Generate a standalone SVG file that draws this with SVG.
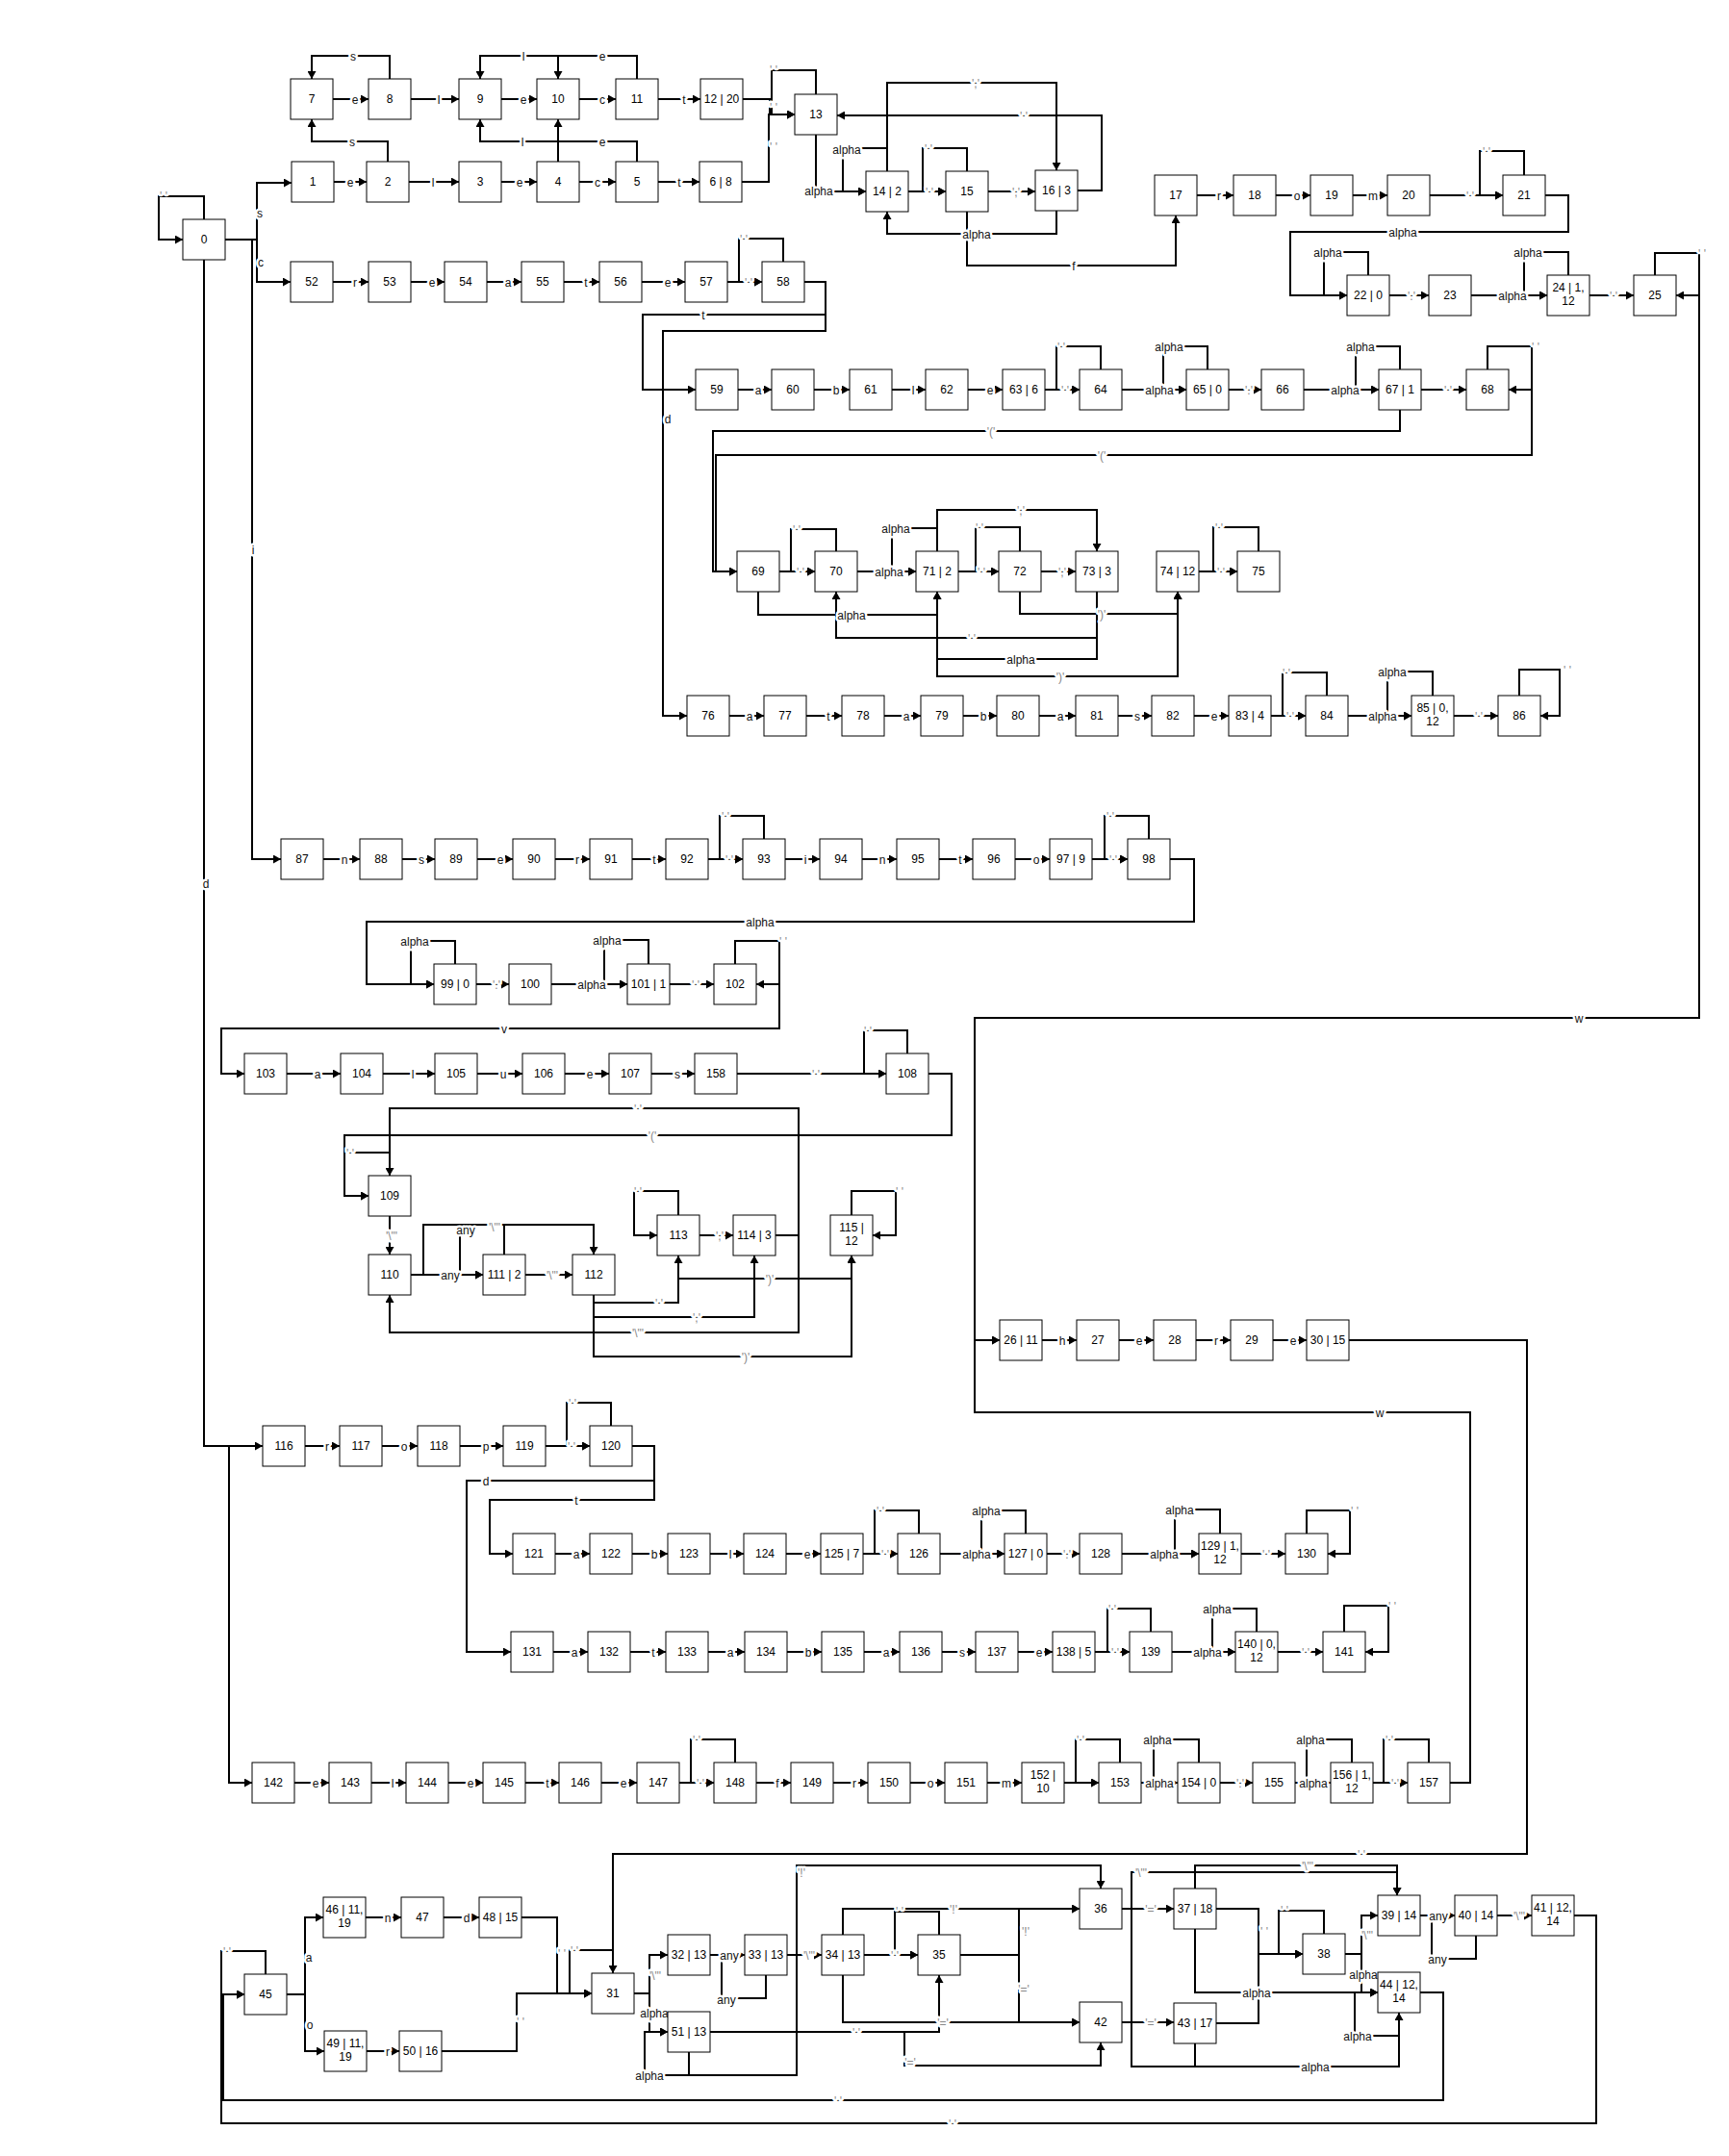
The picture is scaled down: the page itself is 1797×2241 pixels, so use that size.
<svg xmlns="http://www.w3.org/2000/svg" width="1797" height="2241" viewBox="0 0 1797 2241">
<defs>
<marker id="ah" viewBox="0 0 8 9" refX="8" refY="4.5" markerWidth="8" markerHeight="9" markerUnits="userSpaceOnUse" orient="auto"><path d="M0,0 L8,4.5 L0,9 z" fill="#000"/></marker>
<style>
.e{fill:none;stroke:#000;stroke-width:2;marker-end:url(#ah)}
.s{fill:none;stroke:#000;stroke-width:2}
.n{fill:#fff;stroke:#000;stroke-width:1}
text{font-family:"Liberation Sans",Arial,Helvetica,sans-serif;font-size:12px}
.nt{text-anchor:middle;fill:#000}
.l{text-anchor:middle;fill:#111;stroke:#fff;stroke-width:5;stroke-linejoin:round;paint-order:stroke}
.q{fill:#888}
</style>
</defs>
<rect width="1797" height="2241" fill="#fff"/>
<g id="connectors">
<path class="e" d="M346,103 H383"/>
<path class="e" d="M427,103 H477"/>
<path class="e" d="M521,103 H558"/>
<path class="e" d="M602,103 H640"/>
<path class="e" d="M684,103 H728"/>
<path class="e" d="M405,82 V58 H324 V82"/>
<path class="e" d="M580,82 V58 H499 V82"/>
<path class="e" d="M662,82 V58 H580 V82"/>
<path class="e" d="M347,189 H381"/>
<path class="e" d="M425,189 H477"/>
<path class="e" d="M521,189 H558"/>
<path class="e" d="M602,189 H640"/>
<path class="e" d="M684,189 H727"/>
<path class="e" d="M403,168 V147 H324 V124"/>
<path class="e" d="M580,168 V147 H499 V124"/>
<path class="e" d="M662,168 V147 H580 V124"/>
<path class="e" d="M772,103 H800 V119 H826"/>
<path class="e" d="M771,189 H799 V119 H826"/>
<path class="e" d="M848,98 V73 H802 V119 H826"/>
<path class="e" d="M212,228 V204 H165 V249 H190"/>
<path class="e" d="M234,249 H267 V190 H303"/>
<path class="e" d="M234,249 H267 V293 H302"/>
<path class="e" d="M234,249 H262 V893 H292"/>
<path class="e" d="M212,270 V1503 H273"/>
<path class="e" d="M212,270 V1503 H238 V1853 H262"/>
<path class="e" d="M848,140 V199 H900"/>
<path class="e" d="M922,178 V154 H876 V199 H900"/>
<path class="e" d="M944,199 H983"/>
<path class="e" d="M1005,178 V154 H959 V199 H983"/>
<path class="e" d="M1027,199 H1076"/>
<path class="e" d="M922,178 V86 H1098 V177"/>
<path class="e" d="M1120,198 H1145 V120 H870"/>
<path class="e" d="M1098,219 V243 H922 V220"/>
<path class="e" d="M1005,220 V276 H1222 V224"/>
<path class="e" d="M1244,203 H1282"/>
<path class="e" d="M1326,203 H1362"/>
<path class="e" d="M1406,203 H1442"/>
<path class="e" d="M1486,203 H1562"/>
<path class="e" d="M1584,182 V157 H1538 V203 H1562"/>
<path class="e" d="M1606,203 H1630 V241 H1341 V307 H1400"/>
<path class="e" d="M1422,286 V262 H1376 V307 H1400"/>
<path class="e" d="M1444,307 H1485"/>
<path class="e" d="M1529,307 H1608"/>
<path class="e" d="M1630,286 V262 H1584 V307 H1608"/>
<path class="e" d="M1652,307 H1698"/>
<path class="e" d="M1720,286 V263 H1766 V307 H1742"/>
<path class="e" d="M1742,307 H1766 V1058 H1013 V1393 H1039"/>
<path class="e" d="M346,293 H383"/>
<path class="e" d="M427,293 H462"/>
<path class="e" d="M506,293 H542"/>
<path class="e" d="M586,293 H623"/>
<path class="e" d="M667,293 H712"/>
<path class="e" d="M756,293 H792"/>
<path class="e" d="M814,272 V248 H768 V293 H792"/>
<path class="e" d="M836,293 H858 V327 H668 V405 H723"/>
<path class="e" d="M836,293 H858 V344 H689 V744 H714"/>
<path class="e" d="M767,405 H802"/>
<path class="e" d="M846,405 H883"/>
<path class="e" d="M927,405 H962"/>
<path class="e" d="M1006,405 H1042"/>
<path class="e" d="M1086,405 H1122"/>
<path class="e" d="M1144,384 V360 H1098 V405 H1122"/>
<path class="e" d="M1166,405 H1233"/>
<path class="e" d="M1255,384 V360 H1209 V405 H1233"/>
<path class="e" d="M1277,405 H1311"/>
<path class="e" d="M1355,405 H1433"/>
<path class="e" d="M1455,384 V360 H1409 V405 H1433"/>
<path class="e" d="M1477,405 H1524"/>
<path class="e" d="M1546,384 V360 H1592 V405 H1568"/>
<path class="e" d="M1455,426 V448 H741 V594 H766"/>
<path class="e" d="M1568,405 H1592 V473 H744 V594 H766"/>
<path class="e" d="M810,594 H847"/>
<path class="e" d="M869,573 V550 H822 V594 H847"/>
<path class="e" d="M891,594 H952"/>
<path class="e" d="M974,573 V549 H927 V594 H952"/>
<path class="e" d="M996,594 H1038"/>
<path class="e" d="M1060,573 V548 H1014 V594 H1038"/>
<path class="e" d="M974,573 V530 H1140 V573"/>
<path class="e" d="M1082,594 H1118"/>
<path class="e" d="M1140,615 V663 H869 V615"/>
<path class="e" d="M1140,615 V685 H974 V615"/>
<path class="e" d="M1140,615 V638 H1224 V615"/>
<path class="e" d="M1060,615 V638 H1224 V615"/>
<path class="e" d="M788,615 V639 H974 V615"/>
<path class="e" d="M974,615 V703 H1224 V615"/>
<path class="e" d="M1246,594 H1286"/>
<path class="e" d="M1308,573 V548 H1261 V594 H1286"/>
<path class="e" d="M758,744 H794"/>
<path class="e" d="M838,744 H875"/>
<path class="e" d="M919,744 H957"/>
<path class="e" d="M1001,744 H1036"/>
<path class="e" d="M1080,744 H1118"/>
<path class="e" d="M1162,744 H1197"/>
<path class="e" d="M1241,744 H1277"/>
<path class="e" d="M1321,744 H1357"/>
<path class="e" d="M1379,723 V699 H1333 V744 H1357"/>
<path class="e" d="M1401,744 H1467"/>
<path class="e" d="M1489,723 V698 H1442 V744 H1467"/>
<path class="e" d="M1511,744 H1557"/>
<path class="e" d="M1579,723 V696 H1621 V744 H1601"/>
<path class="e" d="M336,893 H374"/>
<path class="e" d="M418,893 H452"/>
<path class="e" d="M496,893 H533"/>
<path class="e" d="M577,893 H613"/>
<path class="e" d="M657,893 H692"/>
<path class="e" d="M736,893 H772"/>
<path class="e" d="M794,872 V848 H748 V893 H772"/>
<path class="e" d="M816,893 H852"/>
<path class="e" d="M896,893 H932"/>
<path class="e" d="M976,893 H1011"/>
<path class="e" d="M1055,893 H1091"/>
<path class="e" d="M1135,893 H1172"/>
<path class="e" d="M1194,872 V848 H1148 V893 H1172"/>
<path class="e" d="M1216,893 H1241 V958 H381 V1023 H451"/>
<path class="e" d="M473,1002 V978 H427 V1023 H451"/>
<path class="e" d="M495,1023 H529"/>
<path class="e" d="M573,1023 H652"/>
<path class="e" d="M674,1002 V977 H628 V1023 H652"/>
<path class="e" d="M696,1023 H742"/>
<path class="e" d="M764,1002 V978 H810 V1023 H786"/>
<path class="e" d="M786,1023 H810 V1069 H230 V1116 H254"/>
<path class="e" d="M298,1116 H354"/>
<path class="e" d="M398,1116 H452"/>
<path class="e" d="M496,1116 H543"/>
<path class="e" d="M587,1116 H633"/>
<path class="e" d="M677,1116 H722"/>
<path class="e" d="M766,1116 H921"/>
<path class="e" d="M943,1095 V1071 H898 V1116 H921"/>
<path class="e" d="M965,1116 H989 V1180 H358 V1243 H383"/>
<path class="e" d="M405,1222 V1198 H358 V1243 H383"/>
<path class="e" d="M405,1264 V1304"/>
<path class="e" d="M427,1325 H502"/>
<path class="e" d="M427,1325 H440 V1273 H617 V1304"/>
<path class="e" d="M524,1304 V1273 H478 V1325 H502"/>
<path class="e" d="M546,1325 H595"/>
<path class="e" d="M617,1346 V1354 H705 V1305"/>
<path class="e" d="M617,1346 V1369 H784 V1305"/>
<path class="e" d="M617,1346 V1410 H885 V1305"/>
<path class="e" d="M705,1263 V1238 H659 V1284 H683"/>
<path class="e" d="M727,1284 H762"/>
<path class="e" d="M705,1305 V1329 H885 V1305"/>
<path class="e" d="M806,1284 H830 V1152 H405 V1222"/>
<path class="e" d="M806,1284 H830 V1385 H405 V1346"/>
<path class="e" d="M885,1263 V1238 H931 V1284 H907"/>
<path class="e" d="M1083,1393 H1119"/>
<path class="e" d="M1163,1393 H1199"/>
<path class="e" d="M1243,1393 H1279"/>
<path class="e" d="M1323,1393 H1358"/>
<path class="e" d="M1402,1393 H1587 V1927 H637 V2051"/>
<path class="e" d="M1507,1853 H1528 V1468 H1013 V1393 H1039"/>
<path class="e" d="M317,1503 H353"/>
<path class="e" d="M397,1503 H434"/>
<path class="e" d="M478,1503 H523"/>
<path class="e" d="M567,1503 H613"/>
<path class="e" d="M635,1482 V1458 H589 V1503 H613"/>
<path class="e" d="M657,1503 H680 V1559 H509 V1615 H533"/>
<path class="e" d="M657,1503 H680 V1539 H485 V1717 H531"/>
<path class="e" d="M577,1615 H613"/>
<path class="e" d="M657,1615 H694"/>
<path class="e" d="M738,1615 H773"/>
<path class="e" d="M817,1615 H853"/>
<path class="e" d="M897,1615 H933"/>
<path class="e" d="M955,1594 V1570 H909 V1615 H933"/>
<path class="e" d="M977,1615 H1044"/>
<path class="e" d="M1066,1594 V1570 H1020 V1615 H1044"/>
<path class="e" d="M1088,1615 H1122"/>
<path class="e" d="M1166,1615 H1246"/>
<path class="e" d="M1268,1594 V1569 H1221 V1615 H1246"/>
<path class="e" d="M1290,1615 H1336"/>
<path class="e" d="M1358,1594 V1570 H1403 V1615 H1380"/>
<path class="e" d="M575,1717 H611"/>
<path class="e" d="M655,1717 H692"/>
<path class="e" d="M736,1717 H774"/>
<path class="e" d="M818,1717 H854"/>
<path class="e" d="M898,1717 H935"/>
<path class="e" d="M979,1717 H1014"/>
<path class="e" d="M1058,1717 H1094"/>
<path class="e" d="M1138,1717 H1174"/>
<path class="e" d="M1196,1696 V1672 H1151 V1717 H1174"/>
<path class="e" d="M1218,1717 H1284"/>
<path class="e" d="M1306,1696 V1672 H1260 V1717 H1284"/>
<path class="e" d="M1328,1717 H1375"/>
<path class="e" d="M1397,1696 V1669 H1443 V1717 H1419"/>
<path class="e" d="M306,1853 H342"/>
<path class="e" d="M386,1853 H422"/>
<path class="e" d="M466,1853 H502"/>
<path class="e" d="M546,1853 H581"/>
<path class="e" d="M625,1853 H662"/>
<path class="e" d="M706,1853 H742"/>
<path class="e" d="M764,1832 V1808 H718 V1853 H742"/>
<path class="e" d="M786,1853 H822"/>
<path class="e" d="M866,1853 H902"/>
<path class="e" d="M946,1853 H982"/>
<path class="e" d="M1026,1853 H1062"/>
<path class="e" d="M1106,1853 H1142"/>
<path class="e" d="M1164,1832 V1808 H1118 V1853 H1142"/>
<path class="e" d="M1186,1853 H1224"/>
<path class="e" d="M1246,1832 V1808 H1199 V1853 H1224"/>
<path class="e" d="M1268,1853 H1302"/>
<path class="e" d="M1346,1853 H1383"/>
<path class="e" d="M1405,1832 V1808 H1358 V1853 H1383"/>
<path class="e" d="M1427,1853 H1463"/>
<path class="e" d="M1485,1832 V1808 H1438 V1853 H1463"/>
<path class="e" d="M276,2052 V2028 H230 V2073 H254"/>
<path class="e" d="M298,2073 H317 V1993 H336"/>
<path class="e" d="M298,2073 H317 V2132 H337"/>
<path class="e" d="M380,1993 H417"/>
<path class="e" d="M461,1993 H498"/>
<path class="e" d="M542,1993 H579 V2072 H615"/>
<path class="e" d="M381,2132 H415"/>
<path class="e" d="M459,2132 H537 V2072 H615"/>
<path class="e" d="M637,2051 V2027 H592 V2072 H615"/>
<path class="e" d="M659,2072 H675 V2032 H694"/>
<path class="e" d="M659,2072 H675 V2112 H694"/>
<path class="e" d="M716,2133 V2157 H670 V2112 H694"/>
<path class="e" d="M716,2133 V2157 H828 V1939 H1144 V1963"/>
<path class="e" d="M738,2112 H976 V2053"/>
<path class="e" d="M738,2112 H940 V2147 H1144 V2123"/>
<path class="e" d="M738,2032 H774"/>
<path class="e" d="M796,2053 V2077 H750 V2032 H774"/>
<path class="e" d="M818,2032 H854"/>
<path class="e" d="M898,2032 H954"/>
<path class="e" d="M976,2011 V1987 H930 V2032 H954"/>
<path class="e" d="M876,2011 V1984 H1122"/>
<path class="e" d="M876,2053 V2102 H1122"/>
<path class="e" d="M998,2032 H1059 V1984 H1122"/>
<path class="e" d="M998,2032 H1059 V2102 H1122"/>
<path class="e" d="M1166,1984 H1220"/>
<path class="e" d="M1166,2102 H1220"/>
<path class="e" d="M1264,1984 H1308 V2031 H1354"/>
<path class="e" d="M1264,2103 H1308 V2031 H1354"/>
<path class="e" d="M1376,2010 V1986 H1329 V2031 H1354"/>
<path class="e" d="M1398,2031 H1415 V1991 H1432"/>
<path class="e" d="M1398,2031 H1415 V2071 H1432"/>
<path class="e" d="M1242,2005 V2071 H1432"/>
<path class="e" d="M1242,1963 V1939 H1452 V1970"/>
<path class="e" d="M1242,2124 V2148 H1176 V1946 H1452 V1970"/>
<path class="e" d="M1242,2124 V2148 H1454 V2092"/>
<path class="e" d="M1454,2092 V2116 H1408 V2071 H1432"/>
<path class="e" d="M1476,1991 H1512"/>
<path class="e" d="M1534,2012 V2036 H1488 V1991 H1512"/>
<path class="e" d="M1556,1991 H1592"/>
<path class="e" d="M1636,1991 H1659 V2207 H230 V2073 H254"/>
<path class="e" d="M1476,2071 H1500 V2183 H232 V2073 H254"/>
</g>
<g id="labels">
<text class="l" x="369" y="108">e</text><text class="l" x="456" y="108">l</text><text class="l" x="544" y="108">e</text><text class="l" x="626" y="108">c</text><text class="l" x="711" y="108">t</text>
<text class="l" x="367" y="63">s</text><text class="l" x="544" y="63">l</text><text class="l" x="626" y="63">e</text>
<text class="l" x="364" y="194">e</text><text class="l" x="450" y="194">l</text><text class="l" x="540" y="194">e</text><text class="l" x="621" y="194">c</text><text class="l" x="706" y="194">t</text>
<text class="l" x="366" y="152">s</text><text class="l" x="543" y="152">l</text><text class="l" x="626" y="152">e</text>
<text class="l q" x="804" y="116">' '</text><text class="l q" x="804" y="157">' '</text><text class="l q" x="804" y="77">' '</text>
<text class="l q" x="170" y="208">' '</text>
<text class="l" x="270" y="226">s</text><text class="l" x="271" y="277">c</text><text class="l" x="263" y="576">i</text><text class="l" x="214" y="923">d</text>
<text class="l" x="851" y="203">alpha</text><text class="l" x="880" y="160">alpha</text>
<text class="l q" x="966" y="204">' '</text><text class="l q" x="965" y="159">' '</text>
<text class="l q" x="1056" y="204">','</text><text class="l q" x="1014" y="91">','</text>
<text class="l q" x="1064" y="125">' '</text><text class="l" x="1015" y="248">alpha</text><text class="l" x="1116" y="281">f</text>
<text class="l" x="1267" y="208">r</text><text class="l" x="1348" y="208">o</text><text class="l" x="1427" y="208">m</text><text class="l q" x="1528" y="208">' '</text>
<text class="l q" x="1545" y="162">' '</text><text class="l" x="1458" y="246">alpha</text><text class="l" x="1380" y="267">alpha</text>
<text class="l q" x="1467" y="312">'.'</text><text class="l" x="1572" y="312">alpha</text><text class="l" x="1588" y="267">alpha</text>
<text class="l q" x="1677" y="312">' '</text><text class="l q" x="1769" y="268">' '</text><text class="l" x="1641" y="1063">w</text>
<text class="l" x="369" y="298">r</text><text class="l" x="449" y="298">e</text><text class="l" x="528" y="298">a</text><text class="l" x="609" y="298">t</text><text class="l" x="694" y="298">e</text><text class="l q" x="778" y="298">' '</text>
<text class="l q" x="773" y="253">' '</text><text class="l" x="731" y="332">t</text><text class="l" x="694" y="440">d</text>
<text class="l" x="788" y="410">a</text><text class="l" x="869" y="410">b</text><text class="l" x="949" y="410">l</text><text class="l" x="1029" y="410">e</text><text class="l q" x="1107" y="410">' '</text><text class="l" x="1205" y="410">alpha</text><text class="l q" x="1298" y="410">'.'</text><text class="l" x="1398" y="410">alpha</text><text class="l q" x="1505" y="410">' '</text>
<text class="l q" x="1103" y="365">' '</text><text class="l" x="1215" y="365">alpha</text><text class="l" x="1414" y="365">alpha</text><text class="l q" x="1596" y="365">' '</text>
<text class="l q" x="1030" y="453">'('</text><text class="l q" x="1145" y="478">'('</text>
<text class="l q" x="832" y="599">' '</text><text class="l" x="924" y="599">alpha</text><text class="l q" x="1020" y="599">' '</text><text class="l q" x="1104" y="599">','</text><text class="l q" x="1269" y="599">' '</text>
<text class="l q" x="828" y="555">' '</text><text class="l" x="931" y="554">alpha</text><text class="l q" x="1018" y="553">' '</text><text class="l q" x="1061" y="535">','</text><text class="l q" x="1267" y="553">' '</text>
<text class="l q" x="1010" y="668">' '</text><text class="l" x="1061" y="690">alpha</text><text class="l q" x="1145" y="643">')'</text><text class="l" x="885" y="644">alpha</text><text class="l q" x="1102" y="708">')'</text>
<text class="l" x="779" y="749">a</text><text class="l" x="861" y="749">t</text><text class="l" x="942" y="749">a</text><text class="l" x="1022" y="749">b</text><text class="l" x="1102" y="749">a</text><text class="l" x="1182" y="749">s</text><text class="l" x="1262" y="749">e</text><text class="l q" x="1341" y="749">' '</text><text class="l" x="1437" y="749">alpha</text><text class="l q" x="1537" y="749">' '</text>
<text class="l q" x="1337" y="704">' '</text><text class="l" x="1447" y="703">alpha</text><text class="l q" x="1629" y="701">' '</text>
<text class="l" x="358" y="898">n</text><text class="l" x="438" y="898">s</text><text class="l" x="520" y="898">e</text><text class="l" x="600" y="898">r</text><text class="l" x="680" y="898">t</text><text class="l q" x="758" y="898">' '</text><text class="l" x="837" y="898">i</text><text class="l" x="917" y="898">n</text><text class="l" x="998" y="898">t</text><text class="l" x="1077" y="898">o</text><text class="l q" x="1157" y="898">' '</text>
<text class="l q" x="754" y="853">' '</text><text class="l q" x="1154" y="853">' '</text><text class="l" x="790" y="963">alpha</text>
<text class="l" x="431" y="983">alpha</text><text class="l q" x="516" y="1028">'.'</text><text class="l" x="615" y="1028">alpha</text><text class="l q" x="723" y="1028">' '</text>
<text class="l" x="631" y="982">alpha</text><text class="l q" x="814" y="983">' '</text><text class="l" x="524" y="1074">v</text>
<text class="l" x="330" y="1121">a</text><text class="l" x="429" y="1121">l</text><text class="l" x="523" y="1121">u</text><text class="l" x="613" y="1121">e</text><text class="l" x="704" y="1121">s</text><text class="l q" x="848" y="1121">' '</text>
<text class="l q" x="902" y="1076">' '</text><text class="l q" x="678" y="1185">'('</text><text class="l q" x="364" y="1203">' '</text>
<text class="l q" x="407" y="1289">'\"'</text><text class="l" x="468" y="1330">any</text><text class="l q" x="514" y="1280">'\"'</text><text class="l" x="484" y="1283">any</text>
<text class="l q" x="574" y="1330">'\"'</text><text class="l q" x="685" y="1359">' '</text><text class="l q" x="724" y="1374">','</text><text class="l q" x="775" y="1415">')'</text>
<text class="l q" x="663" y="1243">' '</text><text class="l q" x="748" y="1289">','</text><text class="l q" x="800" y="1334">')'</text>
<text class="l q" x="663" y="1157">' '</text><text class="l q" x="663" y="1390">'\"'</text><text class="l q" x="935" y="1243">' '</text>
<text class="l" x="1104" y="1398">h</text><text class="l" x="1184" y="1398">e</text><text class="l" x="1264" y="1398">r</text><text class="l" x="1344" y="1398">e</text>
<text class="l q" x="1415" y="1932">' '</text><text class="l" x="1434" y="1473">w</text>
<text class="l" x="340" y="1508">r</text><text class="l" x="420" y="1508">o</text><text class="l" x="505" y="1508">p</text><text class="l q" x="594" y="1508">' '</text>
<text class="l q" x="595" y="1463">' '</text><text class="l" x="599" y="1564">t</text><text class="l" x="505" y="1544">d</text>
<text class="l" x="599" y="1620">a</text><text class="l" x="680" y="1620">b</text><text class="l" x="759" y="1620">l</text><text class="l" x="839" y="1620">e</text><text class="l q" x="920" y="1620">' '</text><text class="l" x="1015" y="1620">alpha</text><text class="l q" x="1109" y="1620">'.'</text><text class="l" x="1210" y="1620">alpha</text><text class="l q" x="1316" y="1620">' '</text>
<text class="l q" x="915" y="1575">' '</text><text class="l" x="1025" y="1575">alpha</text><text class="l" x="1226" y="1574">alpha</text><text class="l q" x="1408" y="1575">' '</text>
<text class="l" x="597" y="1722">a</text><text class="l" x="679" y="1722">t</text><text class="l" x="759" y="1722">a</text><text class="l" x="840" y="1722">b</text><text class="l" x="921" y="1722">a</text><text class="l" x="1000" y="1722">s</text><text class="l" x="1080" y="1722">e</text><text class="l q" x="1159" y="1722">' '</text><text class="l" x="1255" y="1722">alpha</text><text class="l q" x="1357" y="1722">' '</text>
<text class="l q" x="1156" y="1677">' '</text><text class="l" x="1265" y="1677">alpha</text><text class="l q" x="1447" y="1674">' '</text>
<text class="l" x="328" y="1858">e</text><text class="l" x="408" y="1858">l</text><text class="l" x="489" y="1858">e</text><text class="l" x="569" y="1858">t</text><text class="l" x="648" y="1858">e</text><text class="l q" x="728" y="1858">' '</text><text class="l" x="808" y="1858">f</text><text class="l" x="888" y="1858">r</text><text class="l" x="967" y="1858">o</text><text class="l" x="1046" y="1858">m</text><text class="l" x="1205" y="1858">alpha</text><text class="l q" x="1289" y="1858">'.'</text><text class="l" x="1365" y="1858">alpha</text><text class="l q" x="1450" y="1858">' '</text>
<text class="l q" x="724" y="1813">' '</text><text class="l q" x="1123" y="1813">' '</text><text class="l" x="1203" y="1813">alpha</text><text class="l" x="1362" y="1813">alpha</text><text class="l q" x="1444" y="1813">' '</text>
<text class="l q" x="236" y="2033">' '</text><text class="l" x="321" y="2039">a</text><text class="l" x="322" y="2109">o</text>
<text class="l" x="403" y="1998">n</text><text class="l" x="485" y="1998">d</text><text class="l" x="403" y="2137">r</text>
<text class="l q" x="584" y="2035">' '</text><text class="l q" x="541" y="2106">' '</text><text class="l q" x="597" y="2032">' '</text>
<text class="l q" x="681" y="2058">'\"'</text><text class="l" x="680" y="2097">alpha</text><text class="l" x="675" y="2162">alpha</text>
<text class="l q" x="833" y="1951">'!'</text><text class="l q" x="890" y="2117">' '</text><text class="l q" x="946" y="2148">'='</text>
<text class="l" x="758" y="2037">any</text><text class="l" x="755" y="2083">any</text><text class="l q" x="841" y="2037">'\"'</text><text class="l q" x="930" y="2037">' '</text><text class="l q" x="935" y="1991">' '</text>
<text class="l q" x="991" y="1989">'!'</text><text class="l q" x="980" y="2107">'='</text><text class="l q" x="1066" y="2012">'!'</text><text class="l q" x="1064" y="2072">'='</text>
<text class="l q" x="1196" y="1989">'='</text><text class="l q" x="1196" y="2107">'='</text>
<text class="l q" x="1314" y="2012">' '</text><text class="l q" x="1335" y="1990">' '</text><text class="l q" x="1421" y="2016">'\"'</text><text class="l" x="1417" y="2057">alpha</text>
<text class="l" x="1306" y="2076">alpha</text><text class="l q" x="1359" y="1944">'\"'</text><text class="l q" x="1186" y="1951">'\"'</text><text class="l" x="1367" y="2153">alpha</text><text class="l" x="1411" y="2121">alpha</text>
<text class="l" x="1495" y="1996">any</text><text class="l" x="1494" y="2041">any</text><text class="l q" x="1579" y="1996">'\"'</text>
<text class="l q" x="990" y="2212">' '</text><text class="l q" x="871" y="2188">' '</text>
</g>
<g id="nodes">
<g id="n0" transform="translate(190,228)"><rect class="n" width="44" height="42"/><text class="nt" x="22" y="25">0</text></g>
<g id="n1" transform="translate(303,168)"><rect class="n" width="44" height="42"/><text class="nt" x="22" y="25">1</text></g>
<g id="n2" transform="translate(381,168)"><rect class="n" width="44" height="42"/><text class="nt" x="22" y="25">2</text></g>
<g id="n3" transform="translate(477,168)"><rect class="n" width="44" height="42"/><text class="nt" x="22" y="25">3</text></g>
<g id="n4" transform="translate(558,168)"><rect class="n" width="44" height="42"/><text class="nt" x="22" y="25">4</text></g>
<g id="n5" transform="translate(640,168)"><rect class="n" width="44" height="42"/><text class="nt" x="22" y="25">5</text></g>
<g id="n6" transform="translate(727,168)"><rect class="n" width="44" height="42"/><text class="nt" x="22" y="25">6 | 8</text></g>
<g id="n7" transform="translate(302,82)"><rect class="n" width="44" height="42"/><text class="nt" x="22" y="25">7</text></g>
<g id="n8" transform="translate(383,82)"><rect class="n" width="44" height="42"/><text class="nt" x="22" y="25">8</text></g>
<g id="n9" transform="translate(477,82)"><rect class="n" width="44" height="42"/><text class="nt" x="22" y="25">9</text></g>
<g id="n10" transform="translate(558,82)"><rect class="n" width="44" height="42"/><text class="nt" x="22" y="25">10</text></g>
<g id="n11" transform="translate(640,82)"><rect class="n" width="44" height="42"/><text class="nt" x="22" y="25">11</text></g>
<g id="n12" transform="translate(728,82)"><rect class="n" width="44" height="42"/><text class="nt" x="22" y="25">12 | 20</text></g>
<g id="n13" transform="translate(826,98)"><rect class="n" width="44" height="42"/><text class="nt" x="22" y="25">13</text></g>
<g id="n14" transform="translate(900,178)"><rect class="n" width="44" height="42"/><text class="nt" x="22" y="25">14 | 2</text></g>
<g id="n15" transform="translate(983,178)"><rect class="n" width="44" height="42"/><text class="nt" x="22" y="25">15</text></g>
<g id="n16" transform="translate(1076,177)"><rect class="n" width="44" height="42"/><text class="nt" x="22" y="25">16 | 3</text></g>
<g id="n17" transform="translate(1200,182)"><rect class="n" width="44" height="42"/><text class="nt" x="22" y="25">17</text></g>
<g id="n18" transform="translate(1282,182)"><rect class="n" width="44" height="42"/><text class="nt" x="22" y="25">18</text></g>
<g id="n19" transform="translate(1362,182)"><rect class="n" width="44" height="42"/><text class="nt" x="22" y="25">19</text></g>
<g id="n20" transform="translate(1442,182)"><rect class="n" width="44" height="42"/><text class="nt" x="22" y="25">20</text></g>
<g id="n21" transform="translate(1562,182)"><rect class="n" width="44" height="42"/><text class="nt" x="22" y="25">21</text></g>
<g id="n22" transform="translate(1400,286)"><rect class="n" width="44" height="42"/><text class="nt" x="22" y="25">22 | 0</text></g>
<g id="n23" transform="translate(1485,286)"><rect class="n" width="44" height="42"/><text class="nt" x="22" y="25">23</text></g>
<g id="n24" transform="translate(1608,286)"><rect class="n" width="44" height="42"/><text class="nt" x="22" y="17">24 | 1,</text><text class="nt" x="22" y="31">12</text></g>
<g id="n25" transform="translate(1698,286)"><rect class="n" width="44" height="42"/><text class="nt" x="22" y="25">25</text></g>
<g id="n26" transform="translate(1039,1372)"><rect class="n" width="44" height="42"/><text class="nt" x="22" y="25">26 | 11</text></g>
<g id="n27" transform="translate(1119,1372)"><rect class="n" width="44" height="42"/><text class="nt" x="22" y="25">27</text></g>
<g id="n28" transform="translate(1199,1372)"><rect class="n" width="44" height="42"/><text class="nt" x="22" y="25">28</text></g>
<g id="n29" transform="translate(1279,1372)"><rect class="n" width="44" height="42"/><text class="nt" x="22" y="25">29</text></g>
<g id="n30" transform="translate(1358,1372)"><rect class="n" width="44" height="42"/><text class="nt" x="22" y="25">30 | 15</text></g>
<g id="n31" transform="translate(615,2051)"><rect class="n" width="44" height="42"/><text class="nt" x="22" y="25">31</text></g>
<g id="n32" transform="translate(694,2011)"><rect class="n" width="44" height="42"/><text class="nt" x="22" y="25">32 | 13</text></g>
<g id="n33" transform="translate(774,2011)"><rect class="n" width="44" height="42"/><text class="nt" x="22" y="25">33 | 13</text></g>
<g id="n34" transform="translate(854,2011)"><rect class="n" width="44" height="42"/><text class="nt" x="22" y="25">34 | 13</text></g>
<g id="n35" transform="translate(954,2011)"><rect class="n" width="44" height="42"/><text class="nt" x="22" y="25">35</text></g>
<g id="n36" transform="translate(1122,1963)"><rect class="n" width="44" height="42"/><text class="nt" x="22" y="25">36</text></g>
<g id="n37" transform="translate(1220,1963)"><rect class="n" width="44" height="42"/><text class="nt" x="22" y="25">37 | 18</text></g>
<g id="n38" transform="translate(1354,2010)"><rect class="n" width="44" height="42"/><text class="nt" x="22" y="25">38</text></g>
<g id="n39" transform="translate(1432,1970)"><rect class="n" width="44" height="42"/><text class="nt" x="22" y="25">39 | 14</text></g>
<g id="n40" transform="translate(1512,1970)"><rect class="n" width="44" height="42"/><text class="nt" x="22" y="25">40 | 14</text></g>
<g id="n41" transform="translate(1592,1970)"><rect class="n" width="44" height="42"/><text class="nt" x="22" y="17">41 | 12,</text><text class="nt" x="22" y="31">14</text></g>
<g id="n42" transform="translate(1122,2081)"><rect class="n" width="44" height="42"/><text class="nt" x="22" y="25">42</text></g>
<g id="n43" transform="translate(1220,2082)"><rect class="n" width="44" height="42"/><text class="nt" x="22" y="25">43 | 17</text></g>
<g id="n44" transform="translate(1432,2050)"><rect class="n" width="44" height="42"/><text class="nt" x="22" y="17">44 | 12,</text><text class="nt" x="22" y="31">14</text></g>
<g id="n45" transform="translate(254,2052)"><rect class="n" width="44" height="42"/><text class="nt" x="22" y="25">45</text></g>
<g id="n46" transform="translate(336,1972)"><rect class="n" width="44" height="42"/><text class="nt" x="22" y="17">46 | 11,</text><text class="nt" x="22" y="31">19</text></g>
<g id="n47" transform="translate(417,1972)"><rect class="n" width="44" height="42"/><text class="nt" x="22" y="25">47</text></g>
<g id="n48" transform="translate(498,1972)"><rect class="n" width="44" height="42"/><text class="nt" x="22" y="25">48 | 15</text></g>
<g id="n49" transform="translate(337,2111)"><rect class="n" width="44" height="42"/><text class="nt" x="22" y="17">49 | 11,</text><text class="nt" x="22" y="31">19</text></g>
<g id="n50" transform="translate(415,2111)"><rect class="n" width="44" height="42"/><text class="nt" x="22" y="25">50 | 16</text></g>
<g id="n51" transform="translate(694,2091)"><rect class="n" width="44" height="42"/><text class="nt" x="22" y="25">51 | 13</text></g>
<g id="n52" transform="translate(302,272)"><rect class="n" width="44" height="42"/><text class="nt" x="22" y="25">52</text></g>
<g id="n53" transform="translate(383,272)"><rect class="n" width="44" height="42"/><text class="nt" x="22" y="25">53</text></g>
<g id="n54" transform="translate(462,272)"><rect class="n" width="44" height="42"/><text class="nt" x="22" y="25">54</text></g>
<g id="n55" transform="translate(542,272)"><rect class="n" width="44" height="42"/><text class="nt" x="22" y="25">55</text></g>
<g id="n56" transform="translate(623,272)"><rect class="n" width="44" height="42"/><text class="nt" x="22" y="25">56</text></g>
<g id="n57" transform="translate(712,272)"><rect class="n" width="44" height="42"/><text class="nt" x="22" y="25">57</text></g>
<g id="n58" transform="translate(792,272)"><rect class="n" width="44" height="42"/><text class="nt" x="22" y="25">58</text></g>
<g id="n59" transform="translate(723,384)"><rect class="n" width="44" height="42"/><text class="nt" x="22" y="25">59</text></g>
<g id="n60" transform="translate(802,384)"><rect class="n" width="44" height="42"/><text class="nt" x="22" y="25">60</text></g>
<g id="n61" transform="translate(883,384)"><rect class="n" width="44" height="42"/><text class="nt" x="22" y="25">61</text></g>
<g id="n62" transform="translate(962,384)"><rect class="n" width="44" height="42"/><text class="nt" x="22" y="25">62</text></g>
<g id="n63" transform="translate(1042,384)"><rect class="n" width="44" height="42"/><text class="nt" x="22" y="25">63 | 6</text></g>
<g id="n64" transform="translate(1122,384)"><rect class="n" width="44" height="42"/><text class="nt" x="22" y="25">64</text></g>
<g id="n65" transform="translate(1233,384)"><rect class="n" width="44" height="42"/><text class="nt" x="22" y="25">65 | 0</text></g>
<g id="n66" transform="translate(1311,384)"><rect class="n" width="44" height="42"/><text class="nt" x="22" y="25">66</text></g>
<g id="n67" transform="translate(1433,384)"><rect class="n" width="44" height="42"/><text class="nt" x="22" y="25">67 | 1</text></g>
<g id="n68" transform="translate(1524,384)"><rect class="n" width="44" height="42"/><text class="nt" x="22" y="25">68</text></g>
<g id="n69" transform="translate(766,573)"><rect class="n" width="44" height="42"/><text class="nt" x="22" y="25">69</text></g>
<g id="n70" transform="translate(847,573)"><rect class="n" width="44" height="42"/><text class="nt" x="22" y="25">70</text></g>
<g id="n71" transform="translate(952,573)"><rect class="n" width="44" height="42"/><text class="nt" x="22" y="25">71 | 2</text></g>
<g id="n72" transform="translate(1038,573)"><rect class="n" width="44" height="42"/><text class="nt" x="22" y="25">72</text></g>
<g id="n73" transform="translate(1118,573)"><rect class="n" width="44" height="42"/><text class="nt" x="22" y="25">73 | 3</text></g>
<g id="n74" transform="translate(1202,573)"><rect class="n" width="44" height="42"/><text class="nt" x="22" y="25">74 | 12</text></g>
<g id="n75" transform="translate(1286,573)"><rect class="n" width="44" height="42"/><text class="nt" x="22" y="25">75</text></g>
<g id="n76" transform="translate(714,723)"><rect class="n" width="44" height="42"/><text class="nt" x="22" y="25">76</text></g>
<g id="n77" transform="translate(794,723)"><rect class="n" width="44" height="42"/><text class="nt" x="22" y="25">77</text></g>
<g id="n78" transform="translate(875,723)"><rect class="n" width="44" height="42"/><text class="nt" x="22" y="25">78</text></g>
<g id="n79" transform="translate(957,723)"><rect class="n" width="44" height="42"/><text class="nt" x="22" y="25">79</text></g>
<g id="n80" transform="translate(1036,723)"><rect class="n" width="44" height="42"/><text class="nt" x="22" y="25">80</text></g>
<g id="n81" transform="translate(1118,723)"><rect class="n" width="44" height="42"/><text class="nt" x="22" y="25">81</text></g>
<g id="n82" transform="translate(1197,723)"><rect class="n" width="44" height="42"/><text class="nt" x="22" y="25">82</text></g>
<g id="n83" transform="translate(1277,723)"><rect class="n" width="44" height="42"/><text class="nt" x="22" y="25">83 | 4</text></g>
<g id="n84" transform="translate(1357,723)"><rect class="n" width="44" height="42"/><text class="nt" x="22" y="25">84</text></g>
<g id="n85" transform="translate(1467,723)"><rect class="n" width="44" height="42"/><text class="nt" x="22" y="17">85 | 0,</text><text class="nt" x="22" y="31">12</text></g>
<g id="n86" transform="translate(1557,723)"><rect class="n" width="44" height="42"/><text class="nt" x="22" y="25">86</text></g>
<g id="n87" transform="translate(292,872)"><rect class="n" width="44" height="42"/><text class="nt" x="22" y="25">87</text></g>
<g id="n88" transform="translate(374,872)"><rect class="n" width="44" height="42"/><text class="nt" x="22" y="25">88</text></g>
<g id="n89" transform="translate(452,872)"><rect class="n" width="44" height="42"/><text class="nt" x="22" y="25">89</text></g>
<g id="n90" transform="translate(533,872)"><rect class="n" width="44" height="42"/><text class="nt" x="22" y="25">90</text></g>
<g id="n91" transform="translate(613,872)"><rect class="n" width="44" height="42"/><text class="nt" x="22" y="25">91</text></g>
<g id="n92" transform="translate(692,872)"><rect class="n" width="44" height="42"/><text class="nt" x="22" y="25">92</text></g>
<g id="n93" transform="translate(772,872)"><rect class="n" width="44" height="42"/><text class="nt" x="22" y="25">93</text></g>
<g id="n94" transform="translate(852,872)"><rect class="n" width="44" height="42"/><text class="nt" x="22" y="25">94</text></g>
<g id="n95" transform="translate(932,872)"><rect class="n" width="44" height="42"/><text class="nt" x="22" y="25">95</text></g>
<g id="n96" transform="translate(1011,872)"><rect class="n" width="44" height="42"/><text class="nt" x="22" y="25">96</text></g>
<g id="n97" transform="translate(1091,872)"><rect class="n" width="44" height="42"/><text class="nt" x="22" y="25">97 | 9</text></g>
<g id="n98" transform="translate(1172,872)"><rect class="n" width="44" height="42"/><text class="nt" x="22" y="25">98</text></g>
<g id="n99" transform="translate(451,1002)"><rect class="n" width="44" height="42"/><text class="nt" x="22" y="25">99 | 0</text></g>
<g id="n100" transform="translate(529,1002)"><rect class="n" width="44" height="42"/><text class="nt" x="22" y="25">100</text></g>
<g id="n101" transform="translate(652,1002)"><rect class="n" width="44" height="42"/><text class="nt" x="22" y="25">101 | 1</text></g>
<g id="n102" transform="translate(742,1002)"><rect class="n" width="44" height="42"/><text class="nt" x="22" y="25">102</text></g>
<g id="n103" transform="translate(254,1095)"><rect class="n" width="44" height="42"/><text class="nt" x="22" y="25">103</text></g>
<g id="n104" transform="translate(354,1095)"><rect class="n" width="44" height="42"/><text class="nt" x="22" y="25">104</text></g>
<g id="n105" transform="translate(452,1095)"><rect class="n" width="44" height="42"/><text class="nt" x="22" y="25">105</text></g>
<g id="n106" transform="translate(543,1095)"><rect class="n" width="44" height="42"/><text class="nt" x="22" y="25">106</text></g>
<g id="n107" transform="translate(633,1095)"><rect class="n" width="44" height="42"/><text class="nt" x="22" y="25">107</text></g>
<g id="n158" transform="translate(722,1095)"><rect class="n" width="44" height="42"/><text class="nt" x="22" y="25">158</text></g>
<g id="n108" transform="translate(921,1095)"><rect class="n" width="44" height="42"/><text class="nt" x="22" y="25">108</text></g>
<g id="n109" transform="translate(383,1222)"><rect class="n" width="44" height="42"/><text class="nt" x="22" y="25">109</text></g>
<g id="n110" transform="translate(383,1304)"><rect class="n" width="44" height="42"/><text class="nt" x="22" y="25">110</text></g>
<g id="n111" transform="translate(502,1304)"><rect class="n" width="44" height="42"/><text class="nt" x="22" y="25">111 | 2</text></g>
<g id="n112" transform="translate(595,1304)"><rect class="n" width="44" height="42"/><text class="nt" x="22" y="25">112</text></g>
<g id="n113" transform="translate(683,1263)"><rect class="n" width="44" height="42"/><text class="nt" x="22" y="25">113</text></g>
<g id="n114" transform="translate(762,1263)"><rect class="n" width="44" height="42"/><text class="nt" x="22" y="25">114 | 3</text></g>
<g id="n115" transform="translate(863,1263)"><rect class="n" width="44" height="42"/><text class="nt" x="22" y="17">115 |</text><text class="nt" x="22" y="31">12</text></g>
<g id="n116" transform="translate(273,1482)"><rect class="n" width="44" height="42"/><text class="nt" x="22" y="25">116</text></g>
<g id="n117" transform="translate(353,1482)"><rect class="n" width="44" height="42"/><text class="nt" x="22" y="25">117</text></g>
<g id="n118" transform="translate(434,1482)"><rect class="n" width="44" height="42"/><text class="nt" x="22" y="25">118</text></g>
<g id="n119" transform="translate(523,1482)"><rect class="n" width="44" height="42"/><text class="nt" x="22" y="25">119</text></g>
<g id="n120" transform="translate(613,1482)"><rect class="n" width="44" height="42"/><text class="nt" x="22" y="25">120</text></g>
<g id="n121" transform="translate(533,1594)"><rect class="n" width="44" height="42"/><text class="nt" x="22" y="25">121</text></g>
<g id="n122" transform="translate(613,1594)"><rect class="n" width="44" height="42"/><text class="nt" x="22" y="25">122</text></g>
<g id="n123" transform="translate(694,1594)"><rect class="n" width="44" height="42"/><text class="nt" x="22" y="25">123</text></g>
<g id="n124" transform="translate(773,1594)"><rect class="n" width="44" height="42"/><text class="nt" x="22" y="25">124</text></g>
<g id="n125" transform="translate(853,1594)"><rect class="n" width="44" height="42"/><text class="nt" x="22" y="25">125 | 7</text></g>
<g id="n126" transform="translate(933,1594)"><rect class="n" width="44" height="42"/><text class="nt" x="22" y="25">126</text></g>
<g id="n127" transform="translate(1044,1594)"><rect class="n" width="44" height="42"/><text class="nt" x="22" y="25">127 | 0</text></g>
<g id="n128" transform="translate(1122,1594)"><rect class="n" width="44" height="42"/><text class="nt" x="22" y="25">128</text></g>
<g id="n129" transform="translate(1246,1594)"><rect class="n" width="44" height="42"/><text class="nt" x="22" y="17">129 | 1,</text><text class="nt" x="22" y="31">12</text></g>
<g id="n130" transform="translate(1336,1594)"><rect class="n" width="44" height="42"/><text class="nt" x="22" y="25">130</text></g>
<g id="n131" transform="translate(531,1696)"><rect class="n" width="44" height="42"/><text class="nt" x="22" y="25">131</text></g>
<g id="n132" transform="translate(611,1696)"><rect class="n" width="44" height="42"/><text class="nt" x="22" y="25">132</text></g>
<g id="n133" transform="translate(692,1696)"><rect class="n" width="44" height="42"/><text class="nt" x="22" y="25">133</text></g>
<g id="n134" transform="translate(774,1696)"><rect class="n" width="44" height="42"/><text class="nt" x="22" y="25">134</text></g>
<g id="n135" transform="translate(854,1696)"><rect class="n" width="44" height="42"/><text class="nt" x="22" y="25">135</text></g>
<g id="n136" transform="translate(935,1696)"><rect class="n" width="44" height="42"/><text class="nt" x="22" y="25">136</text></g>
<g id="n137" transform="translate(1014,1696)"><rect class="n" width="44" height="42"/><text class="nt" x="22" y="25">137</text></g>
<g id="n138" transform="translate(1094,1696)"><rect class="n" width="44" height="42"/><text class="nt" x="22" y="25">138 | 5</text></g>
<g id="n139" transform="translate(1174,1696)"><rect class="n" width="44" height="42"/><text class="nt" x="22" y="25">139</text></g>
<g id="n140" transform="translate(1284,1696)"><rect class="n" width="44" height="42"/><text class="nt" x="22" y="17">140 | 0,</text><text class="nt" x="22" y="31">12</text></g>
<g id="n141" transform="translate(1375,1696)"><rect class="n" width="44" height="42"/><text class="nt" x="22" y="25">141</text></g>
<g id="n142" transform="translate(262,1832)"><rect class="n" width="44" height="42"/><text class="nt" x="22" y="25">142</text></g>
<g id="n143" transform="translate(342,1832)"><rect class="n" width="44" height="42"/><text class="nt" x="22" y="25">143</text></g>
<g id="n144" transform="translate(422,1832)"><rect class="n" width="44" height="42"/><text class="nt" x="22" y="25">144</text></g>
<g id="n145" transform="translate(502,1832)"><rect class="n" width="44" height="42"/><text class="nt" x="22" y="25">145</text></g>
<g id="n146" transform="translate(581,1832)"><rect class="n" width="44" height="42"/><text class="nt" x="22" y="25">146</text></g>
<g id="n147" transform="translate(662,1832)"><rect class="n" width="44" height="42"/><text class="nt" x="22" y="25">147</text></g>
<g id="n148" transform="translate(742,1832)"><rect class="n" width="44" height="42"/><text class="nt" x="22" y="25">148</text></g>
<g id="n149" transform="translate(822,1832)"><rect class="n" width="44" height="42"/><text class="nt" x="22" y="25">149</text></g>
<g id="n150" transform="translate(902,1832)"><rect class="n" width="44" height="42"/><text class="nt" x="22" y="25">150</text></g>
<g id="n151" transform="translate(982,1832)"><rect class="n" width="44" height="42"/><text class="nt" x="22" y="25">151</text></g>
<g id="n152" transform="translate(1062,1832)"><rect class="n" width="44" height="42"/><text class="nt" x="22" y="17">152 |</text><text class="nt" x="22" y="31">10</text></g>
<g id="n153" transform="translate(1142,1832)"><rect class="n" width="44" height="42"/><text class="nt" x="22" y="25">153</text></g>
<g id="n154" transform="translate(1224,1832)"><rect class="n" width="44" height="42"/><text class="nt" x="22" y="25">154 | 0</text></g>
<g id="n155" transform="translate(1302,1832)"><rect class="n" width="44" height="42"/><text class="nt" x="22" y="25">155</text></g>
<g id="n156" transform="translate(1383,1832)"><rect class="n" width="44" height="42"/><text class="nt" x="22" y="17">156 | 1,</text><text class="nt" x="22" y="31">12</text></g>
<g id="n157" transform="translate(1463,1832)"><rect class="n" width="44" height="42"/><text class="nt" x="22" y="25">157</text></g>
</g>
</svg>
